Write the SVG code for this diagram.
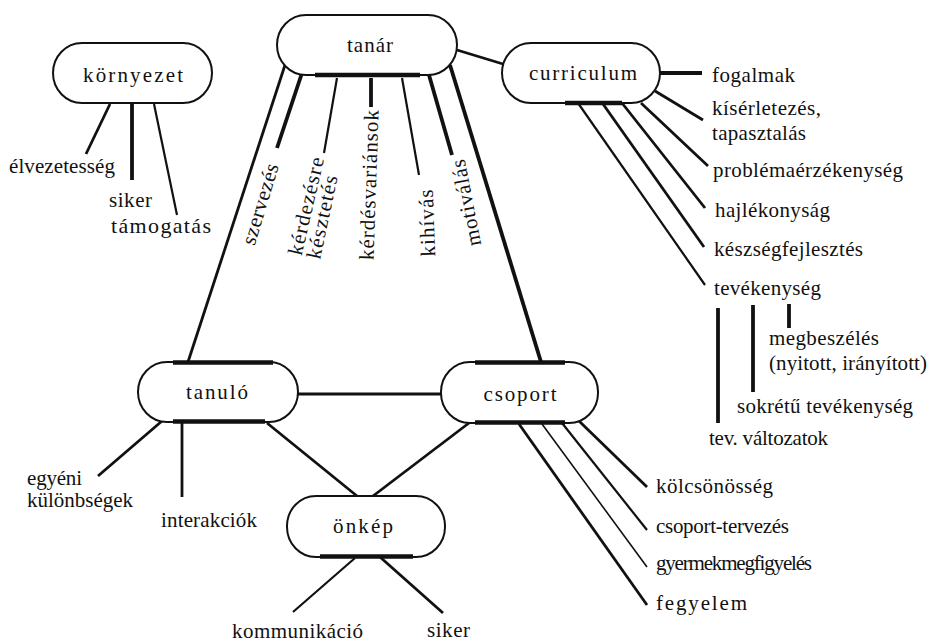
<svg xmlns="http://www.w3.org/2000/svg" width="930" height="642" viewBox="0 0 930 642">
  <style>
    .node rect { fill: #ffffff; stroke: #111111; stroke-width: 2; }
    .bar { stroke: #111111; stroke-width: 4.5; fill: none; }
    .t { font-family: 'Liberation Serif', 'Times New Roman', Times, serif; font-size: 21px; fill: #111111; }
    .nlabel { text-anchor: middle; }
    .rot { text-anchor: middle; }
    #connectors line { stroke: #111111; stroke-linecap: butt; }
    .w1 { stroke-width: 1.6; }
    .w2 { stroke-width: 2.2; }
    .w3 { stroke-width: 2.8; }
    .w4 { stroke-width: 3.8; }
  </style>

  <!-- connectors -->
  <g id="connectors">
    <!-- tanár -->
    <line class="w3" x1="457" y1="50" x2="503" y2="64"/>
    <line class="w3" x1="285" y1="65" x2="188" y2="362"/>
    <line class="w4" x1="302" y1="73" x2="277" y2="148"/>
    <line class="w2" x1="337" y1="78" x2="324" y2="153"/>
    <line class="w4" x1="371" y1="78" x2="371" y2="107"/>
    <line class="w2" x1="402" y1="78" x2="419" y2="175"/>
    <line class="w4" x1="429" y1="75" x2="452" y2="155"/>
    <line class="w4" x1="450" y1="65" x2="541" y2="362"/>
    <!-- curriculum -->
    <line class="w4" x1="660" y1="73" x2="702" y2="73"/>
    <line class="w3" x1="655" y1="91" x2="703" y2="120"/>
    <line class="w3" x1="641" y1="103" x2="708" y2="166"/>
    <line class="w3" x1="622" y1="103" x2="705" y2="208"/>
    <line class="w3" x1="603" y1="104" x2="704" y2="247"/>
    <line class="w2" x1="578" y1="103" x2="705" y2="285"/>
    <!-- tevékenység -->
    <line class="w4" x1="718" y1="308" x2="718" y2="423"/>
    <line class="w4" x1="753" y1="305" x2="753" y2="392"/>
    <line class="w4" x1="789" y1="304" x2="789" y2="328"/>
    <!-- környezet -->
    <line class="w3" x1="110" y1="104" x2="86" y2="154"/>
    <line class="w4" x1="132" y1="103" x2="132" y2="180"/>
    <line class="w2" x1="154" y1="104" x2="177" y2="215"/>
    <!-- tanuló -->
    <line class="w3" x1="298" y1="394" x2="441" y2="394"/>
    <line class="w3" x1="162" y1="421" x2="98" y2="476"/>
    <line class="w3" x1="182" y1="422" x2="182" y2="497"/>
    <line class="w3" x1="267" y1="423" x2="357" y2="496"/>
    <!-- csoport -->
    <line class="w3" x1="469" y1="423" x2="373" y2="496"/>
    <line class="w3" x1="579" y1="421" x2="647" y2="487"/>
    <line class="w2" x1="562" y1="423" x2="647" y2="530"/>
    <line class="w1" x1="542" y1="424" x2="647" y2="567"/>
    <line class="w3" x1="519" y1="424" x2="647" y2="605"/>
    <!-- önkép -->
    <line class="w2" x1="355" y1="558" x2="293" y2="612"/>
    <line class="w3" x1="380" y1="557" x2="443" y2="613"/>
  </g>

  <!-- nodes -->
  <g id="kornyezet" class="node">
    <rect x="53" y="43" width="159" height="60" rx="29" ry="30"/>
    <text class="t nlabel" x="133" y="82" textLength="100">környezet</text>
  </g>
  <g id="tanar" class="node">
    <rect x="277" y="15" width="180" height="60" rx="29" ry="30"/>
    <line class="bar" x1="315" y1="75" x2="420" y2="75"/>
    <text class="t nlabel" x="370" y="52" textLength="46">tanár</text>
  </g>
  <g id="curriculum" class="node">
    <rect x="502" y="43" width="158" height="60" rx="29" ry="30"/>
    <line class="bar" x1="565" y1="103" x2="622" y2="103" stroke-width="3"/>
    <text class="t nlabel" x="583" y="80" textLength="108">curriculum</text>
  </g>
  <g id="tanulo" class="node">
    <rect x="138" y="362" width="160" height="60" rx="29" ry="30"/>
    <line class="bar" x1="173" y1="362.5" x2="273" y2="362.5"/>
    <line class="bar" x1="173" y1="421.5" x2="265" y2="421.5"/>
    <text class="t nlabel" x="217" y="399" textLength="62">tanuló</text>
  </g>
  <g id="csoport" class="node">
    <rect x="441" y="362" width="157" height="61" rx="29" ry="30"/>
    <line class="bar" x1="475" y1="362.5" x2="565" y2="362.5"/>
    <line class="bar" x1="475" y1="422.5" x2="565" y2="422.5"/>
    <text class="t nlabel" x="520" y="401" textLength="73">csoport</text>
  </g>
  <g id="onkep" class="node">
    <rect x="287" y="496" width="158" height="61" rx="29" ry="30"/>
    <line class="bar" x1="320" y1="556.5" x2="413" y2="556.5"/>
    <text class="t nlabel" x="363" y="533" textLength="60">önkép</text>
  </g>

  <!-- labels -->
  <g id="kornyezet-labels">
    <text class="t" x="9" y="173" textLength="106">élvezetesség</text>
    <text class="t" x="109" y="207" textLength="43">siker</text>
    <text class="t" x="111" y="233" textLength="100" style="font-size:22px">támogatás</text>
  </g>
  <g id="tanar-labels">
    <text class="t rot" transform="translate(260,204) rotate(-73)" y="7" textLength="84">szervezés</text>
    <text class="t rot" transform="translate(306,206) rotate(-77)" y="7" textLength="100">kérdezésre</text>
    <text class="t rot" transform="translate(322,217) rotate(-78)" y="7" textLength="85">késztetés</text>
    <text class="t rot" transform="translate(369,185) rotate(-88)" y="7" textLength="150">kérdésvariánsok</text>
    <text class="t rot" transform="translate(427,223) rotate(-92)" y="7" textLength="67">kihívás</text>
    <text class="t rot" transform="translate(466,203) rotate(-101)" y="7" textLength="88">motiválás</text>
  </g>
  <g id="curriculum-labels">
    <text class="t" x="712" y="82" textLength="83">fogalmak</text>
    <text class="t" x="712" y="115" textLength="109">kísérletezés,</text>
    <text class="t" x="712" y="140" textLength="94">tapasztalás</text>
    <text class="t" x="713" y="177" textLength="190">problémaérzékenység</text>
    <text class="t" x="715" y="217" textLength="115">hajlékonyság</text>
    <text class="t" x="714" y="256" textLength="149">készségfejlesztés</text>
    <text class="t" x="714" y="295" textLength="107">tevékenység</text>
    <text class="t" x="769" y="345" textLength="110">megbeszélés</text>
    <text class="t" x="769" y="370" textLength="158">(nyitott, irányított)</text>
    <text class="t" x="737" y="413" textLength="176">sokrétű tevékenység</text>
    <text class="t" x="709" y="445" textLength="119">tev. változatok</text>
  </g>
  <g id="csoport-labels">
    <text class="t" x="656" y="493" textLength="117">kölcsönösség</text>
    <text class="t" x="656" y="533" textLength="133">csoport-tervezés</text>
    <text class="t" x="656" y="570" textLength="156">gyermekmegfigyelés</text>
    <text class="t" x="656" y="610" textLength="91">fegyelem</text>
  </g>
  <g id="tanulo-labels">
    <text class="t" x="27" y="485" textLength="55">egyéni</text>
    <text class="t" x="27" y="507" textLength="106">különbségek</text>
    <text class="t" x="161" y="527" textLength="96">interakciók</text>
  </g>
  <g id="onkep-labels">
    <text class="t" x="232" y="638" textLength="131">kommunikáció</text>
    <text class="t" x="427" y="637" textLength="43">siker</text>
  </g>
</svg>
